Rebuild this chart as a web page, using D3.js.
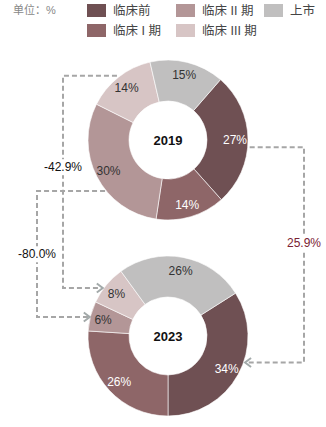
<!DOCTYPE html>
<html>
<head>
<meta charset="utf-8">
<script src="https://cdn.jsdelivr.net/npm/d3@7"></script>
<style>
  html, body { margin: 0; padding: 0; background: #fff; }
  svg { display: block; font-family: "Liberation Sans", Arial, "Noto Sans CJK SC", sans-serif; }
</style>
</head>
<body>
<svg id="chart" width="326" height="427"></svg>
<script>
// Pipeline stages and their share (%) in each year
const stages = ["临床前", "临床 I 期", "临床 II 期", "临床 III 期", "上市"];
const colors = ["#6f5053", "#8e6668", "#b39697", "#d7c5c5", "#c0bfbf"];
const years = ["2019", "2023"];
const share2019 = [27, 14, 30, 14, 15];
const share2023 = [34, 26, 6, 8, 26];
// Change labels on the connectors
const changeLabels = ["25.9%", "-42.9%", "-80.0%"];
const unitLabel = "单位：%";

const svg = d3.select("#chart");
const deg = Math.PI / 180;

const outerR = 80, innerR = 39, labelR = 67;
const donuts = [
  { year: years[0], values: share2019, cx: 168, cy: 140, start: 41 },
  { year: years[1], values: share2023, cx: 168, cy: 336, start: 57.6 }
];

const arc = d3.arc().innerRadius(innerR).outerRadius(outerR);
const labelArc = d3.arc().innerRadius(labelR).outerRadius(labelR);
const lightText = [false, false, true, true, true];

donuts.forEach(d => {
  const pie = d3.pie().sort(null)
    .startAngle(d.start * deg).endAngle(d.start * deg + 2 * Math.PI);
  const arcs = pie(d.values);
  const g = svg.append("g").attr("transform", `translate(${d.cx},${d.cy})`);
  g.selectAll("path").data(arcs).join("path")
    .attr("d", arc)
    .attr("fill", (a, i) => colors[i])
    .attr("stroke", "#fff").attr("stroke-width", 0.6);
  g.selectAll("text.v").data(arcs).join("text")
    .attr("class", "v")
    .attr("transform", a => `translate(${labelArc.centroid(a)})`)
    .attr("text-anchor", "middle").attr("dy", "0.36em")
    .attr("font-size", 12)
    .attr("fill", (a, i) => lightText[i] ? "#333" : "#fff")
    .text(a => a.data + "%");
  g.append("text")
    .attr("text-anchor", "middle").attr("dy", "0.36em")
    .attr("font-size", 13).attr("font-weight", "bold").attr("fill", "#111")
    .text(d.year);
});

// Point on a donut's outer edge at a given clockwise angle (degrees from top)
function edge(dn, a, extra = 0) {
  const r = outerR + extra;
  return [dn.cx + r * Math.sin(a * deg), dn.cy - r * Math.cos(a * deg)];
}

const lineColor = "#a6a6a6";
const connectors = [
  // 临床前: right rail
  { from: edge(donuts[0], 95, 2), railX: 304, to: edge(donuts[1], 109, 1.5), label: changeLabels[0], color: "#7a2233", labelShift: -12 },
  // 临床 III 期: inner left rail
  { from: edge(donuts[0], -38.5, 2), railX: 63, to: edge(donuts[1], -53.6, 1), label: changeLabels[1], color: "#111", labelShift: -15 },
  // 临床 II 期: outer left rail
  { from: edge(donuts[0], 231, 1), railX: 37, to: edge(donuts[1], 283.7, 0.5), label: changeLabels[2], color: "#111", labelShift: 0 }
];

const lineG = svg.append("g");
const labelG = svg.append("g");
connectors.forEach(c => {
  const pts = [c.from, [c.railX, c.from[1]], [c.railX, c.to[1]], c.to];
  lineG.append("path")
    .attr("d", d3.line()(pts))
    .attr("fill", "none").attr("stroke", lineColor)
    .attr("stroke-width", 2).attr("stroke-dasharray", "5,3");
  // open arrowhead at the target
  const dir = c.to[0] > c.railX ? 1 : -1;
  const [tx, ty] = c.to;
  lineG.append("path")
    .attr("d", d3.line()([[tx - dir * 6, ty - 4.5], [tx, ty], [tx - dir * 6, ty + 4.5]]))
    .attr("fill", "none").attr("stroke", "#a3aaaa").attr("stroke-width", 2);
  // label over a white gap in the rail
  const ly = (c.from[1] + c.to[1]) / 2 + c.labelShift;
  const lg = labelG.append("g");
  const bgRect = lg.append("rect").attr("fill", "#fff");
  const t = lg.append("text")
    .attr("x", c.railX).attr("y", ly)
    .attr("text-anchor", "middle").attr("dy", "0.36em")
    .attr("font-size", 12).attr("fill", c.color)
    .text(c.label);
  const bb = t.node().getBBox();
  bgRect.attr("x", bb.x - 1).attr("y", bb.y - 1)
    .attr("width", bb.width + 2).attr("height", bb.height + 2);
});

// Unit note and legend
svg.append("text")
  .attr("x", 13).attr("y", 10).attr("dy", "0.36em")
  .attr("font-size", 11).attr("fill", "#888")
  .text(unitLabel);

const legendCols = [87, 176, 264];
const legendRows = [10.5, 30.5];
const leg = svg.append("g").selectAll("g").data(stages).join("g")
  .attr("transform", (s, i) => `translate(${legendCols[Math.floor(i / 2)]},${legendRows[i % 2]})`);
leg.append("rect")
  .attr("x", 0).attr("y", -6.5).attr("width", 19).attr("height", 13)
  .attr("fill", (s, i) => colors[i]);
leg.append("text")
  .attr("x", 26).attr("dy", "0.36em")
  .attr("font-size", 12.5).attr("fill", "#444")
  .text(s => s);
</script>
</body>
</html>
